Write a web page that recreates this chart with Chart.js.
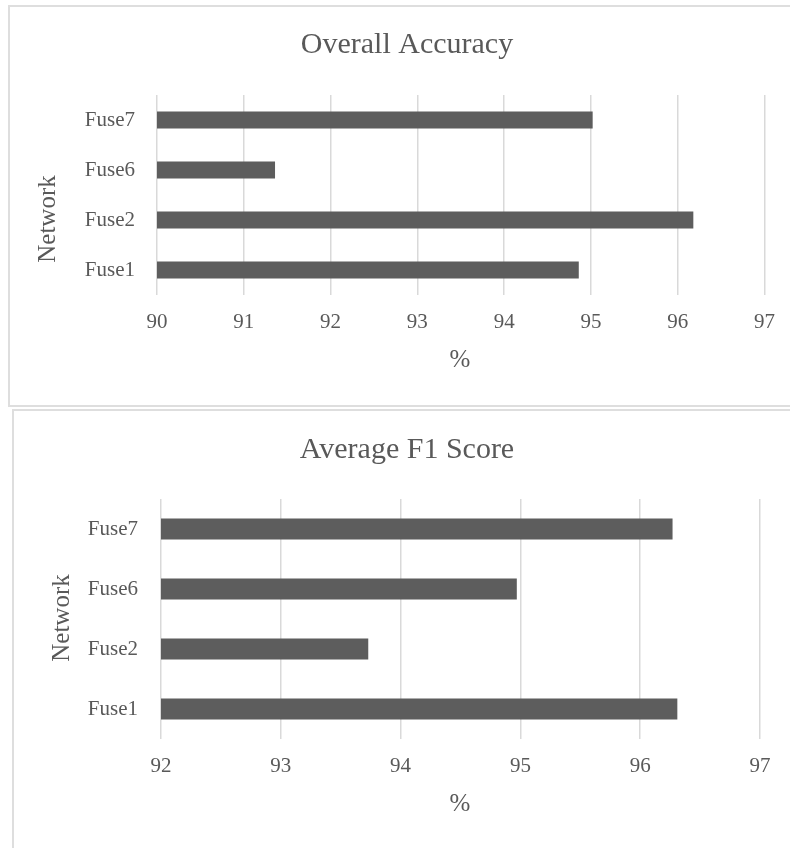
<!DOCTYPE html>
<html>
<head>
<meta charset="utf-8">
<script src="https://cdn.jsdelivr.net/npm/chart.js@4/dist/chart.umd.min.js"></script>
<style>
  html, body { margin: 0; padding: 0; background: #ffffff; overflow: hidden; width: 790px; height: 848px; }
  .frame { position: absolute; box-sizing: border-box; border: 2px solid #dedede; background: #ffffff; }
  canvas { position: absolute; left: 0; }
</style>
</head>
<body>
<div class="frame" style="left:8px; top:5px; width:900px; height:402px;"></div>
<div class="frame" style="left:12px; top:409px; width:900px; height:500px;"></div>
<canvas id="accChart" width="790" height="406" style="top:0px; width:790px; height:406px;"></canvas>
<canvas id="f1Chart" width="790" height="439" style="top:409px; width:790px; height:439px;"></canvas>
<script>
// Networks, listed bottom-to-top as they appear on the category axis
const networks = ['Fuse1', 'Fuse2', 'Fuse6', 'Fuse7'];

// Overall accuracy (%) per network
const overallAccuracy = [94.86, 96.18, 91.36, 95.02];

// Average F1 score (%) per network
const averageF1 = [96.31, 93.73, 94.97, 96.27];

// Value-axis tick labels for each chart
const accuracyTicks = [90, 91, 92, 93, 94, 95, 96, 97];
const f1Ticks = [92, 93, 94, 95, 96, 97];

const TEXT_COLOR = '#595959';
const BAR_COLOR = '#5d5d5d';
const GRID_COLOR = '#d9d9d9';
const FONT = '"Liberation Serif", "Times New Roman", serif';

// Draws the chart title and the two axis titles at fixed spots on the canvas
const captionPlugin = {
  id: 'captions',
  afterDraw(chart, args, opts) {
    const ctx = chart.ctx;
    ctx.save();
    ctx.fillStyle = TEXT_COLOR;
    ctx.textAlign = 'center';
    ctx.textBaseline = 'middle';
    for (const item of opts.items || []) {
      ctx.save();
      ctx.font = item.size + 'px ' + FONT;
      ctx.translate(item.x, item.y);
      if (item.rotate) ctx.rotate(item.rotate);
      ctx.fillText(item.text, 0, 0);
      ctx.restore();
    }
    ctx.restore();
  }
};

function buildChart(canvasId, values, ticks, layout) {
  return new Chart(document.getElementById(canvasId), {
    type: 'bar',
    data: {
      labels: networks,
      datasets: [{
        data: values,
        backgroundColor: BAR_COLOR,
        borderWidth: 0,
        categoryPercentage: 1,
        barPercentage: layout.barPercentage
      }]
    },
    options: {
      indexAxis: 'y',
      responsive: false,
      animation: false,
      layout: { padding: layout.padding },
      plugins: {
        legend: { display: false },
        title: { display: false },
        tooltip: { enabled: false },
        captions: { items: layout.captions }
      },
      scales: {
        x: {
          type: 'linear',
          min: ticks[0],
          max: ticks[ticks.length - 1],
          beginAtZero: false,
          ticks: {
            stepSize: 1,
            color: TEXT_COLOR,
            font: { family: FONT, size: 21 },
            padding: layout.xTickPadding,
            maxRotation: 0
          },
          grid: { color: GRID_COLOR, lineWidth: 1.5, drawTicks: false },
          border: { display: false },
          afterFit(scale) { scale.height = layout.xAxisHeight; }
        },
        y: {
          reverse: true,
          ticks: {
            color: TEXT_COLOR,
            font: { family: FONT, size: 21 },
            padding: layout.yTickPadding
          },
          grid: { display: false, drawTicks: false },
          border: { display: false },
          afterFit(scale) { scale.width = layout.yAxisWidth; }
        }
      }
    },
    plugins: [captionPlugin]
  });
}

buildChart('accChart', overallAccuracy, accuracyTicks, {
  padding: { top: 95, right: 25, bottom: 71, left: 0 },
  yAxisWidth: 157,
  xAxisHeight: 40,
  xTickPadding: 15,
  yTickPadding: 22,
  barPercentage: 0.34,
  captions: [
    { text: 'Overall Accuracy', x: 407, y: 45, size: 30 },
    { text: '%', x: 460, y: 360, size: 25 },
    { text: 'Network', x: 48, y: 219, size: 25, rotate: -Math.PI / 2 }
  ]
});

buildChart('f1Chart', averageF1, f1Ticks, {
  padding: { top: 90, right: 30, bottom: 69, left: 0 },
  yAxisWidth: 161,
  xAxisHeight: 40,
  xTickPadding: 15,
  yTickPadding: 23,
  barPercentage: 0.35,
  captions: [
    { text: 'Average F1 Score', x: 407, y: 41, size: 30 },
    { text: '%', x: 460, y: 395, size: 25 },
    { text: 'Network', x: 62, y: 209, size: 25, rotate: -Math.PI / 2 }
  ]
});
</script>
</body>
</html>
